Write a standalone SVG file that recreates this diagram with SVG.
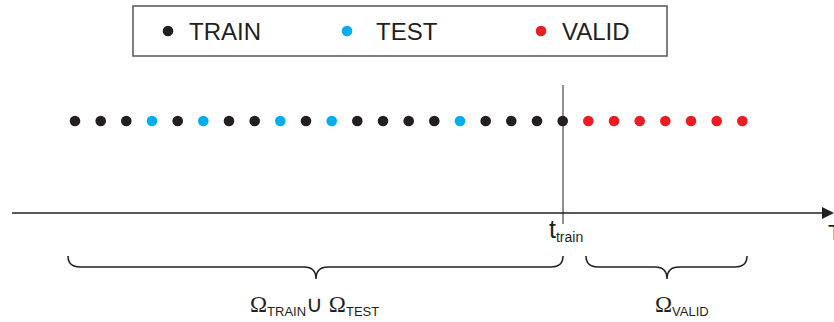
<svg xmlns="http://www.w3.org/2000/svg" width="834" height="322" viewBox="0 0 834 322">
  <style>
    .train { fill: #231f20; }
    .test { fill: #00aeef; }
    .valid { fill: #ed1c24; }
    .sans { font-family: "Liberation Sans", Arial, sans-serif; fill: #231f20; }
    .serif { font-family: "Liberation Serif", "Times New Roman", serif; fill: #231f20; }
    .line { stroke: #231f20; fill: none; }
  </style>

  <!-- legend -->
  <g id="legend">
    <rect x="133" y="6" width="534" height="50" fill="#fff" stroke="#555" stroke-width="1.5"/>
    <circle class="train" cx="168" cy="31" r="5.3"/>
    <text class="sans" x="189" y="40" font-size="24">TRAIN</text>
    <circle class="test" cx="347" cy="31" r="5.3"/>
    <text class="sans" x="376" y="40" font-size="24">TEST</text>
    <circle class="valid" cx="541" cy="31" r="5.3"/>
    <text class="sans" x="562" y="40" font-size="24">VALID</text>
  </g>

  <!-- samples along time -->
  <g id="samples">
    <circle class="train" cx="75" cy="121" r="5.3"/>
    <circle class="train" cx="100.7" cy="121" r="5.3"/>
    <circle class="train" cx="126.3" cy="121" r="5.3"/>
    <circle class="test" cx="152" cy="121" r="5.3"/>
    <circle class="train" cx="177.7" cy="121" r="5.3"/>
    <circle class="test" cx="203.3" cy="121" r="5.3"/>
    <circle class="train" cx="229" cy="121" r="5.3"/>
    <circle class="train" cx="254.7" cy="121" r="5.3"/>
    <circle class="test" cx="280.3" cy="121" r="5.3"/>
    <circle class="train" cx="306" cy="121" r="5.3"/>
    <circle class="test" cx="331.7" cy="121" r="5.3"/>
    <circle class="train" cx="357.3" cy="121" r="5.3"/>
    <circle class="train" cx="383" cy="121" r="5.3"/>
    <circle class="train" cx="408.7" cy="121" r="5.3"/>
    <circle class="train" cx="434.3" cy="121" r="5.3"/>
    <circle class="test" cx="460" cy="121" r="5.3"/>
    <circle class="train" cx="485.7" cy="121" r="5.3"/>
    <circle class="train" cx="511.3" cy="121" r="5.3"/>
    <circle class="train" cx="537" cy="121" r="5.3"/>
    <circle class="train" cx="562.7" cy="121" r="5.3"/>
    <circle class="valid" cx="588.3" cy="121" r="5.3"/>
    <circle class="valid" cx="614" cy="121" r="5.3"/>
    <circle class="valid" cx="639.7" cy="121" r="5.3"/>
    <circle class="valid" cx="665.3" cy="121" r="5.3"/>
    <circle class="valid" cx="691" cy="121" r="5.3"/>
    <circle class="valid" cx="716.7" cy="121" r="5.3"/>
    <circle class="valid" cx="742.3" cy="121" r="5.3"/>
  </g>

  <!-- time axis and split marker -->
  <g id="axis">
    <line class="line" x1="12" y1="213" x2="824" y2="213" stroke-width="1.5"/>
    <polygon points="822,207 834,213 822,219" fill="#231f20"/>
    <line class="line" x1="563" y1="85" x2="563" y2="224" stroke-width="1"/>
    <text class="sans" x="549" y="238" font-size="25">t<tspan font-size="14" dy="4">train</tspan></text>
    <text class="sans" x="828" y="240" font-size="22">T</text>
  </g>

  <!-- braces -->
  <g id="braces">
    <path class="line" stroke-width="1.5" d="M68,256 Q68,267 80,267 L304,267 Q316,267 316,279 Q316,267 328,267 L551,267 Q563,267 563,256"/>
    <path class="line" stroke-width="1.5" d="M586,256 Q586,267 598,267 L655,267 Q667,267 667,279 Q667,267 679,267 L735,267 Q747,267 747,256"/>
    <text x="250" y="312" font-size="23"><tspan class="serif">Ω</tspan><tspan class="sans" font-size="13" dy="4">TRAIN</tspan><tspan class="serif" dy="-4" font-weight="300">∪ Ω</tspan><tspan class="sans" font-size="13" dy="4">TEST</tspan></text>
    <text x="655" y="312" font-size="23"><tspan class="serif">Ω</tspan><tspan class="sans" font-size="13" dy="4">VALID</tspan></text>
  </g>
</svg>
